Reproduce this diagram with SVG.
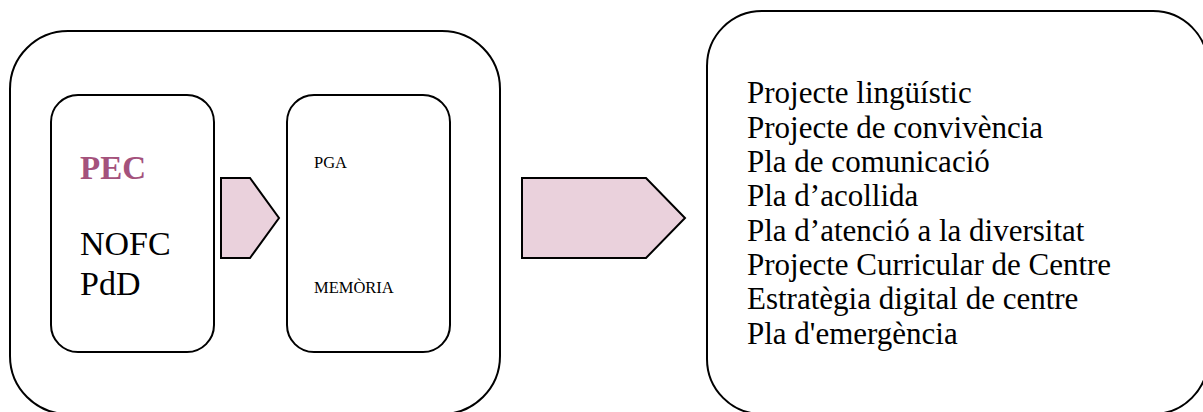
<svg xmlns="http://www.w3.org/2000/svg" width="1203" height="412" viewBox="0 0 1203 412">
<style>
.box{fill:#fff;stroke:#000;stroke-width:2}
.arrow{fill:#EAD1DC;stroke:#000;stroke-width:2;stroke-linejoin:miter}
text{font-family:"Liberation Serif","DejaVu Serif",serif;fill:#000}
.big{font-size:34px}
.small{font-size:16.5px}
.list{font-size:31px}
.pec{font-size:33px;font-weight:bold;fill:#A4527C}
</style>
<rect width="1203" height="412" fill="#fff"/>
<g id="outer-left"><rect class="box" x="10" y="31" width="490" height="383" rx="58" ry="58"/></g>
<g id="node-pec">
<rect class="box" x="51" y="95" width="163" height="257" rx="27" ry="27"/>
<text class="pec" x="80" y="179">PEC</text>
<text class="big" x="80" y="255">NOFC</text>
<text class="big" x="80" y="295">PdD</text>
</g>
<g id="node-pga">
<rect class="box" x="287" y="95" width="163" height="257" rx="27" ry="27"/>
<text class="small" x="314" y="168">PGA</text>
<text class="small" x="314" y="293">MEMÒRIA</text>
</g>
<g id="node-list">
<rect class="box" x="707" y="11" width="501" height="403" rx="55" ry="55"/>
<text class="list" x="747" y="103">Projecte lingüístic</text>
<text class="list" x="747" y="137.5">Projecte de convivència</text>
<text class="list" x="747" y="172">Pla de comunicació</text>
<text class="list" x="747" y="206">Pla d’acollida</text>
<text class="list" x="747" y="240.5">Pla d’atenció a la diversitat</text>
<text class="list" x="747" y="275">Projecte Curricular de Centre</text>
<text class="list" x="747" y="309">Estratègia digital de centre</text>
<text class="list" x="747" y="343.5">Pla d'emergència</text>
</g>
<g id="connectors">
<polygon class="arrow" points="221,178 250,178 279,218 250,258 221,258"/>
<polygon class="arrow" points="522,178 646,178 685,218 646,258 522,258"/>
</g>
</svg>
